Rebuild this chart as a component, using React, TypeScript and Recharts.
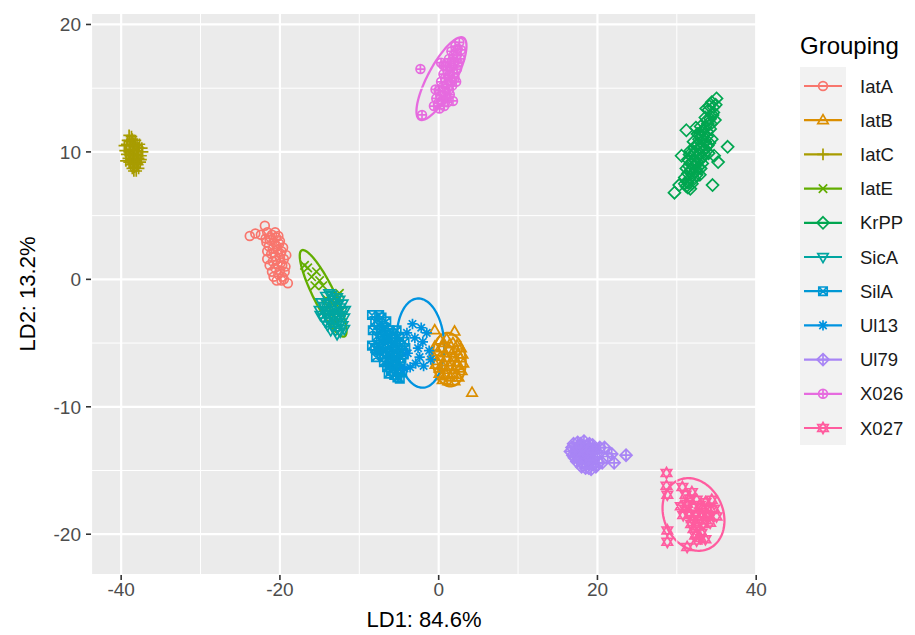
import React from 'react';
import {
  ScatterChart,
  Scatter,
  XAxis,
  YAxis,
  CartesianGrid,
  ReferenceLine,
  ReferenceArea,
  Legend,
  Label,
} from 'recharts';

// group names, colours and ggplot shape kinds (legend order)
const groups = ['IatA', 'IatB', 'IatC', 'IatE', 'KrPP', 'SicA', 'SilA', 'Ul13', 'Ul79', 'X026', 'X027'];
const colors = ['#F8766D', '#DB8E00', '#A89C00', '#62AD00', '#00A650', '#00A5A0', '#0098D4', '#0093E0', '#A885F5', '#E66BDF', '#FF5C9F'];
const shapes = ['circle', 'triangle', 'plus', 'cross', 'diamond', 'triangleDown', 'squareCross', 'asterisk', 'diamondPlus', 'circlePlus', 'star'];

// LD1 / LD2 scores
const iatA = [
  [-23.8, 3.4], [-23.1, 3.6], [-22.4, 3.5], [-21.9, 4.2], [-19.0, -0.3],
  [-21.6, 3.7], [-21.0, 3.5], [-20.5, 3.3], [-21.3, 3.1], [-20.7, 2.9], [-20.1, 2.8], [-21.4, 2.6],
  [-20.9, 2.4], [-20.3, 2.3], [-19.8, 2.2], [-21.1, 2.0], [-20.6, 1.8], [-20.0, 1.7], [-19.5, 1.6],
  [-20.9, 1.4], [-20.3, 1.2], [-19.7, 1.1], [-20.6, 0.9], [-20.0, 0.7], [-19.4, 0.6], [-20.2, 0.4],
  [-19.7, 0.2], [-21.8, 3.2], [-20.0, 3.0], [-19.3, 1.0], [-20.8, 0.2], [-21.6, 1.6], [-19.8, -0.1],
  [-21.2, 3.3], [-20.2, 3.4], [-21.7, 2.9], [-20.4, 2.6], [-19.6, 2.5], [-21.6, 2.2], [-20.8, 2.1],
  [-19.9, 2.0], [-21.3, 1.1], [-20.5, 1.5], [-19.2, 1.9], [-21.0, 0.6], [-19.9, 1.3], [-20.4, -0.1],
  [-19.5, 0.0], [-20.6, 3.7],
];
const iatB = [
  [-0.5, -4.0], [2.0, -4.1], [4.2, -8.9],
  [0.2, -4.8], [1.0, -4.7], [1.8, -5.0], [-0.5, -5.3], [0.4, -5.4], [1.3, -5.5], [2.2, -5.6], [2.8, -5.4],
  [-0.7, -6.0], [0.2, -6.1], [1.0, -6.2], [1.9, -6.1], [2.7, -6.2], [3.1, -6.6], [-0.4, -6.7], [0.5, -6.8],
  [1.4, -6.9], [2.3, -6.8], [2.9, -7.2], [0.1, -7.4], [0.9, -7.5], [1.8, -7.4], [2.5, -7.7], [1.2, -8.0],
  [0.5, -7.9], [2.0, -8.0], [0.6, -5.0], [1.4, -5.1], [2.3, -5.2], [-0.1, -5.7], [0.8, -5.8], [1.7, -5.8],
  [2.5, -5.9], [-0.2, -6.4], [0.6, -6.5], [1.5, -6.5], [2.3, -6.5], [0.1, -7.0], [1.0, -7.1], [1.9, -7.1],
  [2.6, -7.0], [0.5, -7.6], [1.4, -7.7], [2.2, -7.5], [3.0, -5.9],
];
const iatC = [
  [-39.0, 11.3], [-38.6, 11.0], [-38.2, 10.9], [-39.3, 10.6], [-38.8, 10.5], [-38.3, 10.4], [-37.8, 10.3],
  [-39.5, 10.1], [-39.0, 10.0], [-38.5, 9.9], [-38.0, 9.8], [-37.5, 9.7], [-39.1, 9.5], [-38.6, 9.4],
  [-38.1, 9.3], [-37.6, 9.2], [-38.8, 9.0], [-38.3, 8.8], [-37.8, 8.7], [-38.4, 8.5], [-37.3, 10.0],
  [-39.6, 10.5], [-38.9, 10.8], [-37.9, 9.0], [-38.4, 10.1], [-37.7, 10.6], [-38.7, 11.2], [-39.2, 10.9],
  [-38.4, 10.7], [-38.0, 10.5], [-39.3, 9.8], [-38.8, 9.7], [-38.3, 9.6], [-37.8, 9.5], [-39.0, 9.2],
  [-38.5, 9.1], [-38.0, 9.1], [-38.6, 8.7], [-38.1, 8.5], [-37.5, 9.4], [-37.4, 10.3], [-39.4, 9.3],
  [-38.6, 10.2], [-38.1, 10.1],
];
const iatE = [
  [-16.9, 1.1], [-16.5, 0.9], [-15.4, 0.6], [-16.0, 0.2], [-15.0, -0.1], [-15.6, -0.5], [-14.6, -0.5],
  [-12.5, -1.1], [-12.8, -1.3], [-14.2, -1.5], [-13.8, -2.2], [-13.2, -2.8], [-12.9, -3.4], [-13.6, -1.8],
  [-14.5, -2.5], [-13.0, -1.9], [-12.3, -2.5],
];
const krPP = [
  [29.7, 6.8], [34.5, 7.4], [36.4, 10.4], [34.7, 9.7], [35.2, 9.2], [31.2, 11.7], [30.6, 9.7], [33.7, 13.4],
  [35.0, 14.2], [30.3, 7.4],
  [34.4, 13.9], [34.9, 13.7], [34.0, 13.3], [34.6, 13.1], [33.6, 12.7], [34.2, 12.6], [34.8, 12.5],
  [33.0, 12.0], [33.6, 11.9], [34.2, 11.8], [32.6, 11.4], [33.2, 11.3], [33.8, 11.2], [34.4, 11.0],
  [32.1, 10.8], [32.7, 10.6], [33.3, 10.6], [33.9, 10.5], [31.7, 10.1], [32.3, 10.0], [32.9, 9.9],
  [33.5, 9.8], [31.4, 9.4], [32.0, 9.3], [32.6, 9.2], [33.2, 9.1], [31.2, 8.7], [31.8, 8.6], [32.4, 8.5],
  [33.0, 8.7], [31.0, 8.0], [31.6, 7.9], [32.2, 7.9], [31.2, 7.3], [31.7, 7.1], [33.6, 10.2], [32.4, 11.9],
  [34.6, 13.5], [34.3, 12.2], [33.9, 12.2], [33.3, 11.7], [32.9, 11.4], [33.5, 11.4], [32.4, 10.5],
  [33.0, 10.3], [34.1, 10.7], [32.0, 9.8], [32.6, 9.6], [33.2, 9.6], [31.7, 9.1], [32.3, 8.9], [32.9, 8.2],
  [31.4, 8.3], [32.0, 8.2], [31.4, 7.6], [31.0, 7.5], [31.9, 7.5], [33.8, 11.6], [33.3, 10.1], [32.7, 8.8],
  [31.6, 9.8], [34.0, 9.9], [34.1, 13.6], [34.5, 12.9], [33.8, 12.5], [33.1, 11.6], [32.8, 11.0],
  [32.2, 10.3], [31.9, 9.6], [31.5, 8.9], [33.6, 10.8], [33.0, 9.4], [32.5, 8.2], [31.4, 7.2],
];
const sicA = [
  [-14.2, -1.3], [-13.5, -1.2], [-12.8, -1.4], [-14.8, -1.8], [-14.1, -1.9], [-13.4, -1.8], [-12.7, -2.0],
  [-12.1, -1.9], [-15.0, -2.4], [-14.3, -2.5], [-13.6, -2.4], [-12.9, -2.6], [-12.2, -2.5], [-14.6, -3.0],
  [-13.9, -3.1], [-13.2, -3.0], [-12.5, -3.2], [-11.9, -3.0], [-14.0, -3.6], [-13.4, -3.7], [-12.7, -3.8],
  [-12.1, -3.6], [-13.0, -4.0], [-12.4, -4.1], [-11.9, -3.9], [-14.5, -2.1], [-13.7, -3.3], [-13.8, -1.1],
  [-13.1, -1.6], [-14.4, -2.2], [-13.0, -2.2], [-12.4, -2.2], [-14.2, -2.8], [-13.5, -2.7], [-12.8, -2.9],
  [-12.2, -2.8], [-14.3, -3.3], [-13.0, -3.4], [-12.3, -3.4], [-13.6, -4.0], [-12.8, -4.3], [-11.8, -2.4],
  [-14.9, -2.8], [-12.5, -1.6],
];
const silA = [
  [-8.4, -2.8], [-7.5, -2.8], [-8.4, -5.2], [-8.3, -4.0], [-7.6, -3.6], [-6.9, -3.8], [-6.2, -4.0],
  [-7.8, -4.5], [-7.1, -4.4], [-6.4, -4.6], [-5.7, -4.3], [-5.0, -4.5], [-7.6, -5.3], [-6.9, -5.1],
  [-6.2, -5.3], [-5.5, -5.0], [-4.8, -5.2], [-7.2, -5.9], [-6.5, -5.8], [-5.8, -6.0], [-5.1, -5.8],
  [-4.4, -5.9], [-6.9, -6.5], [-6.2, -6.6], [-5.5, -6.4], [-4.8, -6.6], [-6.0, -7.2], [-5.3, -7.1],
  [-4.6, -7.3], [-5.2, -7.7], [-6.6, -3.3], [-4.3, -4.9], [-7.9, -6.1], [-7.2, -3.0], [-8.0, -3.3],
  [-7.3, -4.0], [-6.6, -4.2], [-5.9, -4.7], [-5.3, -4.0], [-7.3, -4.8], [-6.6, -5.0], [-5.9, -5.5],
  [-5.2, -5.4], [-4.6, -5.6], [-7.5, -5.6], [-6.8, -6.1], [-6.1, -6.2], [-5.4, -6.1], [-4.7, -6.2],
  [-6.5, -6.9], [-5.7, -6.8], [-5.0, -7.0], [-5.6, -7.5], [-4.9, -7.8], [-8.0, -5.4], [-4.2, -5.4],
  [-6.3, -7.4],
];
const ul13 = [
  [-3.3, -3.5], [-2.0, -4.9], [-2.4, -6.1], [-4.0, -4.2], [-3.6, -6.9], [-1.5, -4.2], [-2.6, -5.4],
  [-3.0, -4.6], [-1.2, -5.6], [-3.9, -5.8], [-2.9, -6.6], [-1.9, -6.8], [-4.3, -7.0], [-2.2, -3.8],
  [-1.0, -6.3],
];
const ul79 = [
  [20.9, -13.2], [21.8, -13.7], [23.6, -13.8], [22.1, -14.4], [20.6, -14.4], [21.3, -13.9],
  [17.5, -12.8], [18.3, -12.7], [19.0, -12.9], [16.8, -13.2], [17.5, -13.3], [18.2, -13.2], [18.9, -13.4],
  [19.6, -13.3], [16.9, -13.8], [17.6, -13.8], [18.3, -13.9], [19.0, -13.8], [19.7, -13.9], [17.4, -14.3],
  [18.1, -14.4], [18.8, -14.3], [19.5, -14.5], [18.5, -14.8], [19.2, -14.9], [20.2, -14.4], [20.3, -13.2],
  [17.0, -12.9], [17.9, -13.6], [18.6, -14.1], [17.9, -12.9], [18.7, -13.0], [17.2, -13.5], [17.9, -13.2],
  [18.6, -13.5], [19.3, -13.6], [17.1, -14.0], [17.8, -14.1], [18.5, -14.4], [19.2, -14.2], [18.0, -14.7],
  [18.9, -14.8], [19.8, -14.7], [16.6, -13.5], [19.4, -13.0], [20.0, -13.6],
];
const x026 = [
  [-2.3, 16.5], [-2.1, 12.9],
  [2.6, 18.6], [2.1, 18.3], [2.8, 18.0], [1.6, 17.9], [2.3, 17.6], [1.3, 17.3], [2.0, 17.1], [2.7, 17.3],
  [0.9, 16.7], [1.6, 16.6], [2.3, 16.5], [0.6, 16.1], [1.3, 16.0], [2.0, 15.8], [0.3, 15.5], [1.0, 15.3],
  [1.7, 15.2], [0.0, 14.8], [0.7, 14.7], [1.4, 14.5], [-0.3, 14.2], [0.4, 14.0], [1.1, 13.9], [-0.6, 13.6],
  [0.1, 13.4], [0.3, 17.0], [1.8, 14.0], [2.4, 18.1], [1.9, 17.6], [1.6, 17.1], [2.4, 17.0], [1.1, 16.4],
  [1.9, 16.2], [0.8, 15.8], [1.6, 15.6], [0.5, 15.1], [1.3, 14.9], [0.2, 14.4], [1.0, 14.3], [-0.1, 13.8],
  [0.7, 13.6], [2.2, 15.5], [-0.4, 14.9], [0.6, 16.8],
];
const x027 = [
  [28.7, -15.2], [28.7, -16.2], [28.8, -16.9], [28.8, -19.7], [28.8, -20.6], [30.7, -16.3], [31.9, -16.7],
  [31.6, -17.2], [31.3, -21.0], [32.5, -20.5], [34.7, -18.0], [33.7, -18.9], [30.5, -17.8], [31.3, -17.6],
  [32.1, -17.9], [32.9, -17.7], [33.6, -17.5], [30.8, -18.5], [31.6, -18.4], [32.4, -18.6], [33.2, -18.4],
  [34.0, -18.6], [31.8, -19.2], [32.6, -19.4], [33.4, -19.2], [32.3, -20.1], [33.1, -19.9], [34.4, -17.3],
  [35.0, -18.6], [33.6, -20.4], [31.1, -16.9], [32.5, -17.3], [33.3, -17.9], [31.0, -18.0], [31.9, -18.8],
  [32.8, -18.9], [33.7, -18.5], [34.2, -19.1], [32.1, -19.6], [33.0, -20.3], [34.3, -18.1],
];
const groupPoints = [iatA, iatB, iatC, iatE, krPP, sicA, silA, ul13, ul79, x026, x027];

// stat_ellipse outlines that show: centre, half-span on each axis, tilt phase (deg)
const ellipseGroups = ['IatB', 'IatE', 'Ul13', 'X026', 'X027'];
const ellipseCenters = [[1.3, -6.3], [-14.55, -1.1], [-2.3, -5.0], [0.35, 15.75], [32.1, -18.45]];
const ellipseHalfSpans = [[2.1, 2.1], [2.95, 3.4], [3.0, 3.5], [3.15, 3.25], [3.9, 2.85]];
const ellipseTilts = [95, 150, 95, 38, 100];

const xTicks = [-40, -20, 0, 20, 40];
const yTicks = [-20, -10, 0, 10, 20];
const xMinor = [-30, -10, 10, 30];
const yMinor = [-15, -5, 5, 15];

const FONT = '"Liberation Sans", Arial, Helvetica, sans-serif';

function Marker({ kind, cx, cy, color }: { kind: string; cx: number; cy: number; color: string }) {
  const p = { fill: 'none', stroke: color, strokeWidth: 1.7 };
  const r = 4.4;
  const tri = `M${cx},${cy - 5.6}L${cx + 5.2},${cy + 3.4}L${cx - 5.2},${cy + 3.4}Z`;
  const triDown = `M${cx},${cy + 5.6}L${cx + 5.2},${cy - 3.4}L${cx - 5.2},${cy - 3.4}Z`;
  const diamond = `M${cx},${cy - 6}L${cx + 6},${cy}L${cx},${cy + 6}L${cx - 6},${cy}Z`;
  switch (kind) {
    case 'circle':
      return <circle cx={cx} cy={cy} r={r} {...p} />;
    case 'triangle':
      return <path d={tri} {...p} />;
    case 'plus':
      return <path d={`M${cx - 5.8},${cy}H${cx + 5.8}M${cx},${cy - 5.8}V${cy + 5.8}`} {...p} />;
    case 'cross':
      return <path d={`M${cx - 4.2},${cy - 4.2}L${cx + 4.2},${cy + 4.2}M${cx - 4.2},${cy + 4.2}L${cx + 4.2},${cy - 4.2}`} {...p} />;
    case 'diamond':
      return <path d={diamond} {...p} />;
    case 'triangleDown':
      return <path d={triDown} {...p} />;
    case 'squareCross':
      return (
        <path
          d={`M${cx - 4.2},${cy - 4.2}H${cx + 4.2}V${cy + 4.2}H${cx - 4.2}ZM${cx - 4.2},${cy - 4.2}L${cx + 4.2},${cy + 4.2}M${cx - 4.2},${cy + 4.2}L${cx + 4.2},${cy - 4.2}`}
          {...p}
        />
      );
    case 'asterisk':
      return (
        <path
          d={`M${cx - 5.2},${cy}H${cx + 5.2}M${cx},${cy - 5.2}V${cy + 5.2}M${cx - 3.7},${cy - 3.7}L${cx + 3.7},${cy + 3.7}M${cx - 3.7},${cy + 3.7}L${cx + 3.7},${cy - 3.7}`}
          {...p}
        />
      );
    case 'diamondPlus':
      return <path d={`${diamond}M${cx - 6},${cy}H${cx + 6}M${cx},${cy - 6}V${cy + 6}`} {...p} />;
    case 'circlePlus':
      return (
        <g>
          <circle cx={cx} cy={cy} r={r} {...p} />
          <path d={`M${cx - r},${cy}H${cx + r}M${cx},${cy - r}V${cy + r}`} {...p} />
        </g>
      );
    case 'star':
      return <path d={`${tri}${triDown}`} {...p} />;
    default:
      return null;
  }
}

// draws the ellipse inside the pixel box the reference area gets from the axes
function EllipseShape(props: any) {
  const { x, y, width, height, tilt, color } = props;
  if (width == null || height == null) return null;
  const cx = x + width / 2;
  const cy = y + height / 2;
  const ph = (tilt * Math.PI) / 180;
  const pts: string[] = [];
  for (let i = 0; i <= 120; i++) {
    const t = (i / 120) * Math.PI * 2;
    pts.push(`${(cx + (width / 2) * Math.cos(t)).toFixed(2)},${(cy - (height / 2) * Math.cos(t + ph)).toFixed(2)}`);
  }
  return <path d={`M${pts.join('L')}Z`} fill="none" stroke={color} strokeWidth={2.3} />;
}

function GroupLegend(props: any) {
  const payload = props.payload || [];
  const items = payload.filter((e: any) => groups.includes(e.value));
  return (
    <svg width={118} height={430} style={{ display: 'block', fontFamily: FONT }}>
      <text x={3} y={26} fontSize={24} fill="#000">Grouping</text>
      <rect x={3} y={39} width={46} height={378} fill="#F2F2F2" />
      {items.map((e: any, i: number) => {
        const gi = groups.indexOf(e.value);
        const cy = 58 + i * 34.2;
        return (
          <g key={e.value}>
            <line x1={7} x2={45} y1={cy} y2={cy} stroke={colors[gi]} strokeWidth={2.2} />
            <Marker kind={shapes[gi]} cx={26} cy={cy} color={colors[gi]} />
            <text x={63} y={cy + 6.5} fontSize={18.5} fill="#1A1A1A">{e.value}</text>
          </g>
        );
      })}
    </svg>
  );
}

export default function App() {
  return (
    <div style={{ position: 'absolute', left: 0, top: 0, width: 915, height: 635, background: '#fff', fontFamily: FONT }}>
      <ScatterChart width={915} height={635} margin={{ top: 13, right: 158, bottom: 0, left: 0 }}>
        <CartesianGrid fill="#EBEBEB" fillOpacity={1} stroke="#FFFFFF" strokeWidth={2.2} />
        {xMinor.map((v) => (
          <ReferenceLine key={`vx${v}`} x={v} stroke="#FFFFFF" strokeWidth={1} />
        ))}
        {yMinor.map((v) => (
          <ReferenceLine key={`hy${v}`} y={v} stroke="#FFFFFF" strokeWidth={1} />
        ))}
        <XAxis
          type="number"
          dataKey="x"
          domain={[-43.8, 40.1]}
          ticks={xTicks}
          allowDataOverflow
          axisLine={false}
          tickLine={{ stroke: '#333333', strokeWidth: 1.6 }}
          tickSize={5}
          tickMargin={3}
          height={60}
          tick={{ fontSize: 19, fill: '#4D4D4D', fontFamily: FONT }}
        >
          <Label value="LD1: 84.6%" position="insideBottom" offset={8} style={{ fontSize: 22, fill: '#000', fontFamily: FONT }} />
        </XAxis>
        <YAxis
          type="number"
          dataKey="y"
          domain={[-23.2, 20.9]}
          ticks={yTicks}
          allowDataOverflow
          axisLine={false}
          tickLine={{ stroke: '#333333', strokeWidth: 1.6 }}
          tickSize={5}
          tickMargin={5}
          width={91}
          tick={{ fontSize: 19, fill: '#4D4D4D', fontFamily: FONT }}
        >
          <Label
            content={(p: any) => {
              const vb = p.viewBox || { x: 0, y: 13, width: 91, height: 562 };
              const lx = vb.x + 27;
              const ly = vb.y + vb.height / 2;
              return (
                <text
                  x={lx}
                  y={ly}
                  transform={`rotate(-90 ${lx} ${ly})`}
                  textAnchor="middle"
                  dominantBaseline="central"
                  fontSize={22}
                  fill="#000"
                  fontFamily={FONT}
                >
                  LD2: 13.2%
                </text>
              );
            }}
          />
        </YAxis>
        {groups.map((g, i) => (
          <Scatter
            key={g}
            name={g}
            data={groupPoints[i].map(([x, y]) => ({ x, y }))}
            fill={colors[i]}
            isAnimationActive={false}
            shape={(p: any) => <Marker kind={shapes[i]} cx={p.cx} cy={p.cy} color={colors[i]} />}
          />
        ))}
        {ellipseGroups.map((g, i) => {
          const gi = groups.indexOf(g);
          const [ex, ey] = ellipseCenters[i];
          const [hx, hy] = ellipseHalfSpans[i];
          return (
            <ReferenceArea
              key={`el${g}`}
              x1={ex - hx}
              x2={ex + hx}
              y1={ey - hy}
              y2={ey + hy}
              ifOverflow="visible"
              shape={(p: any) => <EllipseShape {...p} tilt={ellipseTilts[i]} color={colors[gi]} />}
            />
          );
        })}
        <Legend
          layout="vertical"
          align="center"
          verticalAlign="middle"
          wrapperStyle={{ left: 797, top: 28, width: 118, height: 430 }}
          content={(p: any) => <GroupLegend {...p} />}
        />
      </ScatterChart>
    </div>
  );
}
